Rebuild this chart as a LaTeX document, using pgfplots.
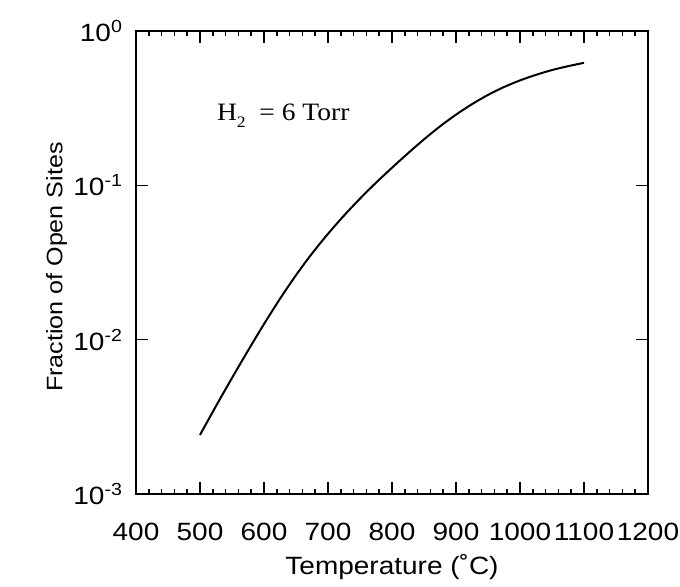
\documentclass[border=0pt]{standalone}
\usepackage{fontspec}
\setmainfont{Liberation Sans}[FakeStretch=1.12]
\newfontfamily\seriffont{Liberation Serif}[FakeStretch=1.1]
\usepackage{pgfplots}
\pgfplotsset{compat=1.18}
\begin{document}
\begin{tikzpicture}
\begin{axis}[
  scale only axis,
  width=256pt, height=231.5pt,
  xmin=400, xmax=1200,
  ymode=log, ymin=1e-3, ymax=1,
  xtick={400,500,...,1200},
  minor x tick num=4,
  ytick={1e-3,1e-2,1e-1,1},
  yticklabels={10\textsuperscript{-3},10\textsuperscript{-2},10\textsuperscript{-1},10\textsuperscript{0}},
  yminorticks=false,
  tick align=inside,
  xtick pos=both, ytick pos=both,
  major tick length=6pt,
  minor tick length=2.6pt,
  axis line style={line width=1pt},
  every tick/.style={line width=0.8pt, black},
  tick label style={font=\fontsize{12.5}{14}\selectfont},
  xticklabel style={anchor=base, yshift=-23pt},
  yticklabel style={xshift=-3pt},
  /pgf/number format/assume math mode=true,
  xticklabel={\pgfmathprintnumber[1000 sep={}]{\tick}},
  xlabel={Temperature (˚C)},
  xlabel style={font=\fontsize{12.5}{14}\selectfont, at={(axis description cs:0.5,0)}, anchor=base, yshift=-40pt},
  ylabel={Fraction of Open Sites},
  ylabel style={font=\fontsize{11.2}{13}\selectfont, at={(axis description cs:-0.155,0.49)}, anchor=center},
]
\addplot[black, line width=1pt, smooth] coordinates {
(500,0.002415)
(525,0.003715)
(550,0.005649)
(575,0.008492)
(600,0.01262)
(625,0.01841)
(650,0.02618)
(675,0.03614)
(700,0.04853)
(725,0.06368)
(750,0.08204)
(775,0.1040)
(800,0.1300)
(825,0.1614)
(850,0.1986)
(875,0.2410)
(900,0.2871)
(925,0.3357)
(950,0.3855)
(975,0.4335)
(1000,0.4786)
(1025,0.5200)
(1050,0.5585)
(1075,0.5916)
(1100,0.6223)
};
\node[anchor=base west, inner sep=0pt, font=\seriffont\fontsize{12.5}{14}\selectfont] at (axis cs:526,0.262) {H\raisebox{-0.6ex}{\fontsize{8}{9}\selectfont 2}\ \ = 6 Torr};
\end{axis}
\pgfresetboundingbox
\path[use as bounding box] (current axis.south west) ++(-68pt,-46pt) rectangle ++(340pt,293pt);
\end{tikzpicture}
\end{document}
